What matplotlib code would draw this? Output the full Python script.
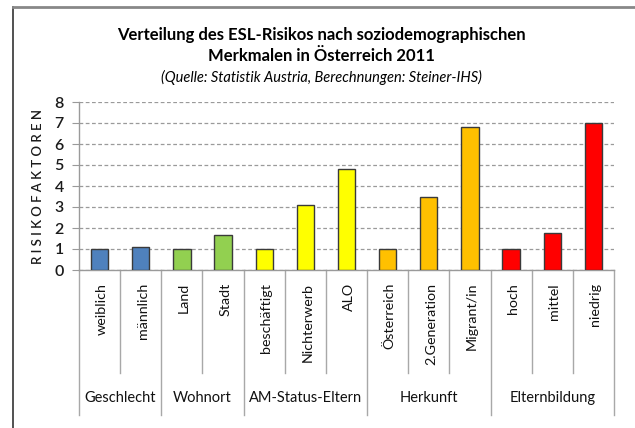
import matplotlib
matplotlib.use("Agg")
import matplotlib.pyplot as plt
from matplotlib.lines import Line2D

plt.rcParams['font.family'] = ['Lato', 'DejaVu Sans']

categories = ["weiblich", "männlich", "Land", "Stadt", "beschäftigt", "Nichterwerb", "ALO",
              "Österreich", "2.Generation", "Migrant/in", "hoch", "mittel", "niedrig"]
values = [1.0, 1.1, 1.0, 1.65, 1.0, 3.1, 4.8, 1.0, 3.5, 6.83, 1.0, 1.78, 7.0]
groups = ["Geschlecht", "Wohnort", "AM-Status-Eltern", "Herkunft", "Elternbildung"]
group_sizes = [2, 2, 3, 3, 3]
group_colors = ["#4F81BD", "#92D050", "#FFFF00", "#FFC000", "#FF0000"]

title1 = "Verteilung des ESL-Risikos nach soziodemographischen"
title2 = "Merkmalen in Österreich 2011"
subtitle = "(Quelle: Statistik Austria, Berechnungen: Steiner-IHS)"
ylabel = "RISIKOFAKTOREN"

W, H = 635, 428
fig = plt.figure(figsize=(W / 100, H / 100), dpi=100)
ax = fig.add_axes([79 / W, 1 - 270 / H, (614 - 79) / W, (270 - 102) / H])

colors = []
for c, n in zip(group_colors, group_sizes):
    colors += [c] * n

x = list(range(len(categories)))
ax.bar(x, values, width=0.42, color=colors, edgecolor="#3a3a3a", linewidth=1.0, zorder=3)
ax.set_xlim(-0.5, len(categories) - 0.5)
ax.set_ylim(0, 8)
ax.set_yticks(range(0, 9))
ax.set_yticklabels([str(i) for i in range(9)], fontsize=11.5, fontweight="semibold",
                   color="#1a1a1a")
ax.yaxis.grid(True, linestyle=(0, (3, 2)), color="#9a9a9a", linewidth=0.9, zorder=0)
ax.set_axisbelow(True)
for s in ["top", "right"]:
    ax.spines[s].set_visible(False)
ax.spines["left"].set_color("#9a9a9a")
ax.spines["bottom"].set_color("#9a9a9a")
ax.spines["left"].set_linewidth(1.0)
ax.spines["bottom"].set_linewidth(1.0)
ax.tick_params(axis="y", length=5, color="#9a9a9a", pad=6)
ax.tick_params(axis="x", length=0)
ax.set_xticks([])

# y label with letter spacing
fig.text(38 / W, 1 - 187 / H, " ".join(ylabel), rotation=90, ha="center", va="center",
         fontsize=9.5, fontweight="semibold", color="#1a1a1a")

# category labels and separators
trans = ax.get_xaxis_transform()
for i, lab in enumerate(categories):
    ax.text(i + 0.05, -13 / (270 - 102), lab, rotation=90, ha="center", va="top",
            fontsize=10.3, transform=trans, clip_on=False, color="#111111")

def ax_y(py):
    return (270 - py) / (270 - 102)

bounds = [0]
for n in group_sizes:
    bounds.append(bounds[-1] + n)
group_edges = set(bounds)
for b in range(len(categories) + 1):
    xe = b - 0.5
    bottom = 415 if b in group_edges else 373
    ax.add_line(Line2D([xe, xe], [0, ax_y(bottom)], transform=trans, color="#a8a8a8",
                       linewidth=1.0, clip_on=False))

for gi, g in enumerate(groups):
    xc = (bounds[gi] + bounds[gi + 1]) / 2 - 0.5
    ax.text(xc, ax_y(398), g, ha="center", va="center", fontsize=10.5,
            transform=trans, clip_on=False, color="#111111")

# titles
fig.text(321 / W, 1 - 35 / H, title1, ha="center", va="center", fontsize=12,
         fontweight="bold")
fig.text(321 / W, 1 - 56 / H, title2, ha="center", va="center", fontsize=12,
         fontweight="bold")
fig.text(321 / W, 1 - 77 / H, subtitle, ha="center", va="center", fontsize=10.5,
         style="italic")

# frame
fig.add_artist(Line2D([13 / W, 13 / W], [0, 1 - 7 / H], transform=fig.transFigure,
                      color="#333333", linewidth=1.2))
fig.add_artist(Line2D([13 / W, 1], [1 - 7 / H, 1 - 7 / H], transform=fig.transFigure,
                      color="#888888", linewidth=2))

fig.savefig("out.png", dpi=100)
